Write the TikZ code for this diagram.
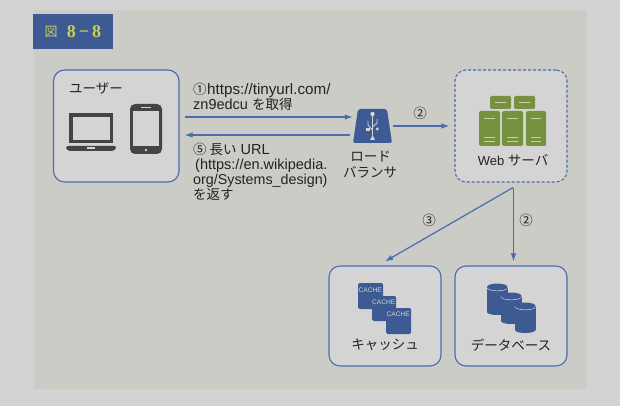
\documentclass[tikz,border=0pt]{standalone}
\usepackage{fontspec}
\setmainfont{Liberation Sans}
\newfontfamily\jpf{Noto Sans CJK JP}
\newfontfamily\serf{Liberation Serif}
\newcommand{\J}[1]{{\jpf\fontsize{13.5}{15}\selectfont #1}}
\definecolor{bgout}{HTML}{D3D3D3}
\definecolor{bgin}{HTML}{CBCCC6}
\definecolor{boxf}{HTML}{D4D4D4}
\definecolor{navy}{HTML}{3D5A92}
\definecolor{edge}{HTML}{4A6BB0}
\definecolor{grn}{HTML}{76923F}
\definecolor{grnl}{HTML}{C8D0B0}
\definecolor{dev}{HTML}{444444}
\definecolor{ink}{HTML}{222222}
\definecolor{ttl}{HTML}{C9CF5C}
\usetikzlibrary{arrows.meta}
\tikzset{
  x=1pt,y=-1pt,
  panel/.style={draw=edge,line width=1.1pt,fill=boxf,rounded corners=11pt,minimum width=#1,inner sep=0pt},
  lbl/.style={inner sep=0pt,text=ink,font=\fontsize{14.5}{15}\selectfont},
  txt/.style={lbl,anchor=base west},
  conn/.style={draw=edge,line width=1.2pt,-{Latex[length=8pt,width=5.5pt]}},
  ghost/.style={inner sep=0pt,minimum width=#1},
  svr/.style={fill=grn,rounded corners=1.5pt},
  svl/.style={draw=grnl,line width=.8pt},
  cachebox/.style={fill=navy,rounded corners=1.5pt},
  cachetxt/.style={text=boxf,inner sep=0pt,font=\fontsize{6.6}{8}\selectfont,anchor=base east},
  usb/.style={draw=boxf,line width=.9pt}
}
\newcommand{\srv}[4]{\fill[svr] (#1,#2) rectangle (#3,#4);}
\newcommand{\cyl}[3]{%
  \fill[navy] (#1,#2) rectangle (#1+20.5,#3);
  \fill[navy] (#1+10.25,#3) ellipse[x radius=10.25pt,y radius=3pt];
  \draw[boxf,line width=.8pt] (#1,#2) .. controls (#1,#2+5) and (#1+20.5,#2+5) .. (#1+20.5,#2);
  \fill[navy] (#1+10.25,#2) ellipse[x radius=10.25pt,y radius=3.5pt];
}
\begin{document}
\begin{tikzpicture}
\useasboundingbox (0,0) rectangle (620,406);
\fill[bgout] (0,0) rectangle (620,406);
\fill[bgin] (34,10) rectangle (587,389);
% title
\node[fill=navy,minimum width=80pt,minimum height=35pt,inner sep=0pt] (title) at (73,31.5) {};
\node[text=ttl,inner sep=0pt] (tz) at (51,32) {\jpf\fontsize{13}{13}\selectfont 図};
\node[text=ttl,inner sep=0pt] (tn) at (84,32) {\serf\bfseries\fontsize{18}{18}\selectfont 8\,−\,8};
% panels
\node[panel=125.5pt,minimum height=112pt] (user) at (116.25,126) {};
\node[panel=112pt,minimum height=112pt,dashed,dash pattern=on 3pt off 2pt] (web) at (511,126) {};
\node[panel=112pt,minimum height=100pt] (cache) at (385,316) {};
\node[panel=112pt,minimum height=100pt] (db) at (511,316) {};
\node[ghost=39pt,minimum height=34pt] (lb) at (372.5,126) {};
% load balancer
\fill[navy,rounded corners=2pt] (358,109) -- (387,109) -- (392,143) -- (353,143) -- cycle;
\draw[usb] (372.5,114) -- (372.5,137);
\fill[boxf] (372.5,114) circle (2.2pt);
\fill[boxf] (370,140) -- (375,140) -- (372.5,135) -- cycle;
\draw[usb] (372.5,130) -- (368,125) -- (368,121);
\draw[usb] (372.5,127) -- (377,123) -- (377,119);
\fill[boxf] (366.3,131) rectangle (369.7,127.6);
\fill[boxf] (377.3,129) circle (1.6pt);
% laptop
\fill[dev] (69,113) rectangle (113,143);
\fill[boxf] (73,117) rectangle (110,140);
\fill[dev,rounded corners=1.5pt] (66,146) -- (116,146) -- (116,149) -- (113,151) -- (69,151) -- (66,149) -- cycle;
\fill[boxf] (87,147.5) rectangle (95,148.7);
% phone
\fill[dev,rounded corners=5pt] (130,104) rectangle (162,154);
\fill[boxf] (133,111) rectangle (159,146);
\fill[boxf] (141,107) rectangle (151,108.2);
\fill[boxf] (146,150) circle (1.4pt);
% servers
\srv{490}{96}{511}{109}\srv{514}{96}{535}{109}
\srv{479}{111}{500}{146}\srv{502}{111}{523}{146}\srv{526}{111}{546}{146}
\draw[svl] (495,102.5) -- (506,102.5) (519,102.5) -- (530,102.5);
\foreach \a/\b in {484/495,507/518,531/541}{
  \draw[svl] (\a,118) -- (\b,118) (\a,137) -- (\b,137) (\a,141) -- (\b,141);
}
% cache icons
\fill[cachebox] (358,283) rectangle (383,309);
\node[cachetxt] (c1) at (382,292) {CACHE};
\fill[cachebox] (372,296) rectangle (396,321);
\node[cachetxt] (c2) at (395.5,304.5) {CACHE};
\fill[cachebox] (386,308) rectangle (411,334);
\node[cachetxt] (c3) at (410,316.5) {CACHE};
% cylinders
\cyl{487}{287}{312}
\cyl{501}{296}{321}
\cyl{515}{306}{330}
% labels
\node[inner sep=0pt,text=ink] (ulab) at (96,89) {\J{ユーザー}};
\node[inner sep=0pt,text=ink] (wlab) at (513,160) {\fontsize{13}{15}\selectfont Web \J{サーバ}};
\node[inner sep=0pt,text=ink] (clab) at (385,345) {\J{キャッシュ}};
\node[inner sep=0pt,text=ink] (dlab) at (511,345) {\J{データベース}};
\node[inner sep=0pt,text=ink] (lb1) at (370.5,157) {\J{ロード}};
\node[inner sep=0pt,text=ink] (lb2) at (370,172) {\J{バランサ}};
\node[txt] (t1) at (193,95) {\J{①}\kern.5pt\fontsize{15.2}{15}\selectfont https://tinyurl.com/};
\node[txt] (t2) at (193,110) {zn9edcu \J{を取得}};
\node[txt] (t3) at (193,154) {\J{⑤\kern3pt 長い} URL};
\node[txt] (t4) at (195,169) {(https://en.wikipedia.};
\node[txt] (t5) at (193,184) {\fontsize{14.3}{15}\selectfont org/Systems\_design)};
\node[txt] (t6) at (193,199) {\J{を返す}};
\node[inner sep=0pt,text=ink] (n2a) at (420,113) {\J{②}};
\node[inner sep=0pt,text=ink] (n3) at (429,220) {\J{③}};
\node[inner sep=0pt,text=ink] (n2b) at (526,220) {\J{②}};
% connectors
\draw[conn] ([xshift=5pt,yshift=9pt]user.east) -- ([yshift=9pt]lb.west);
\draw[conn] ([xshift=-3pt,yshift=-9pt]lb.west) -- ([xshift=5pt,yshift=-9pt]user.east);
\draw[conn] ([xshift=1pt]lb.east) -- ([xshift=-5pt]web.west);
\draw[conn] ([xshift=2pt,yshift=-5pt]web.south) -- ([yshift=4pt]cache.north);
\draw[conn] ([xshift=2.5pt,yshift=-5pt]web.south) -- ([xshift=2.5pt,yshift=4pt]db.north);
\end{tikzpicture}
\end{document}
